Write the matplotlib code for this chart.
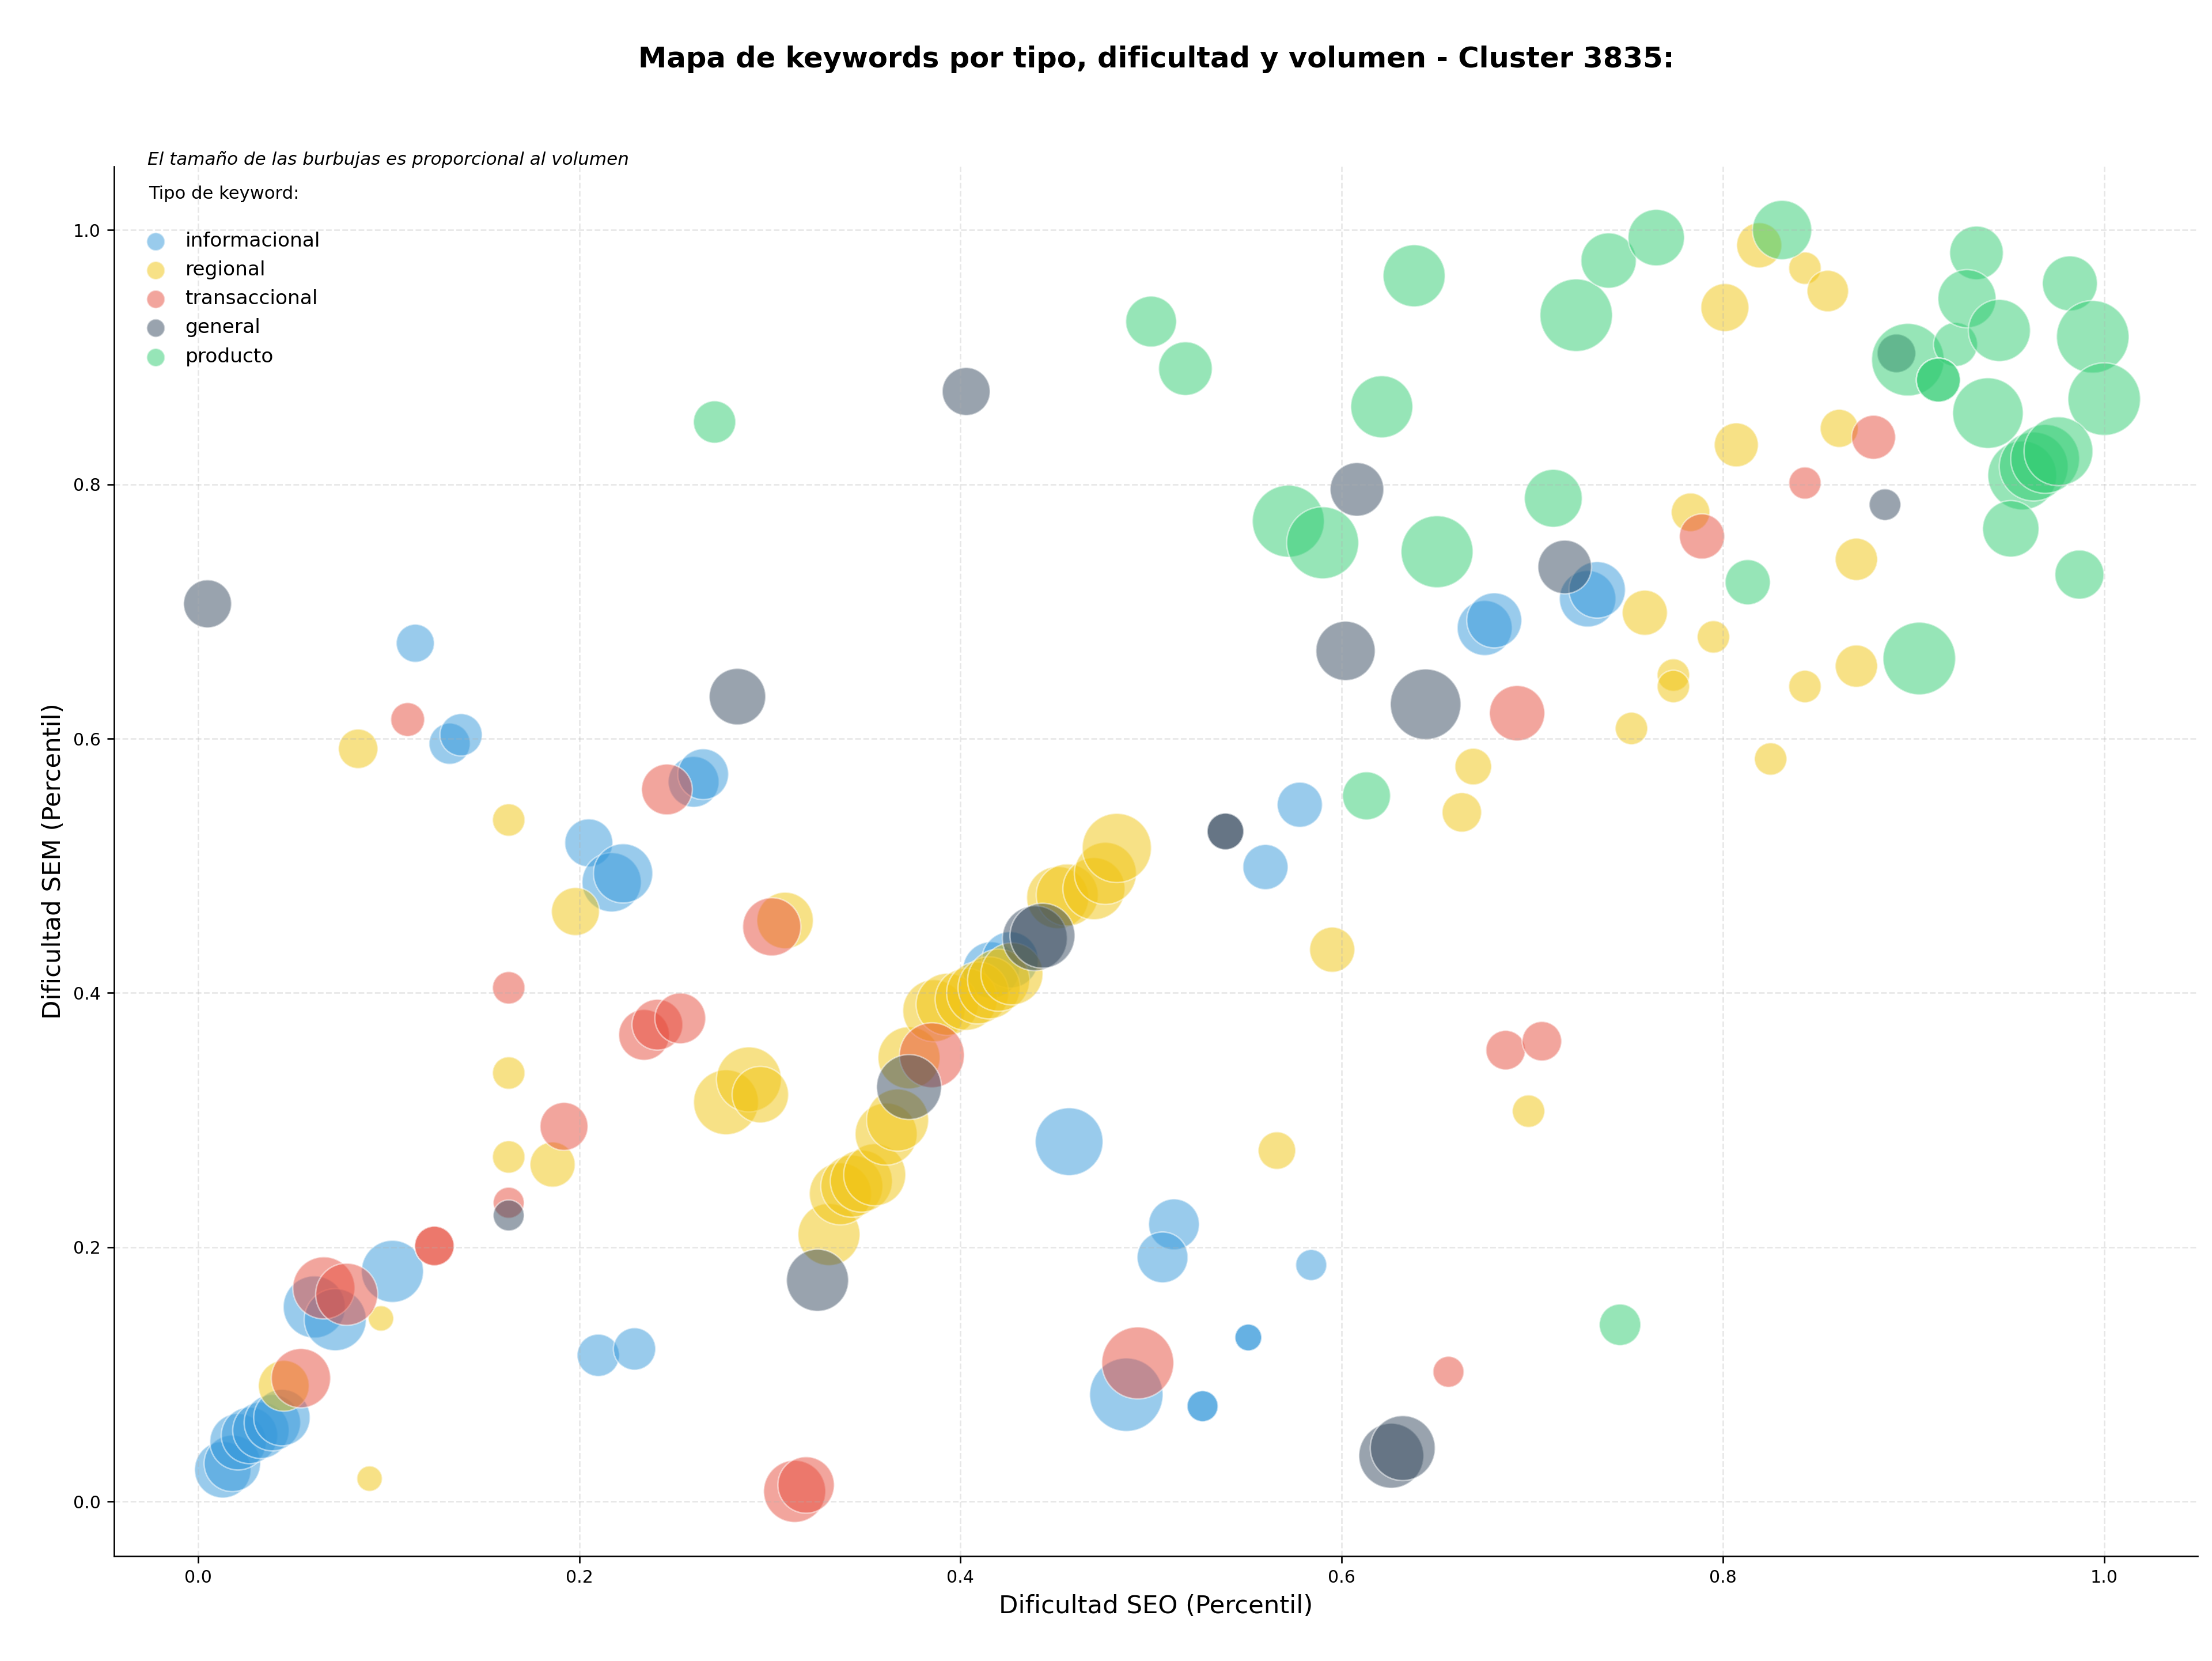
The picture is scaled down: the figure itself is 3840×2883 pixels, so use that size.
import matplotlib
matplotlib.use("Agg")
import matplotlib.pyplot as plt

# tipos de keyword y colores
tipos = ["informacional", "regional", "transaccional", "general", "producto"]
colores = ["#3498db", "#f1c40f", "#e74c3c", "#34495e", "#2ecc71"]

# informacional
x_inf = [0.013, 0.018, 0.021, 0.027, 0.033, 0.039, 0.044, 0.061, 0.072, 0.102,
         0.114, 0.132, 0.138, 0.205, 0.217, 0.223, 0.260, 0.265, 0.210, 0.229,
         0.416, 0.426, 0.457, 0.487, 0.512, 0.506, 0.584, 0.551, 0.551, 0.527,
         0.527, 0.560, 0.578, 0.675, 0.680, 0.729, 0.734]
y_inf = [0.025, 0.030, 0.047, 0.052, 0.056, 0.062, 0.066, 0.153, 0.143, 0.181,
         0.675, 0.596, 0.603, 0.518, 0.487, 0.494, 0.566, 0.572, 0.115, 0.120,
         0.418, 0.426, 0.283, 0.084, 0.218, 0.192, 0.186, 0.129, 0.129, 0.075,
         0.075, 0.499, 0.548, 0.687, 0.693, 0.710, 0.717]
v_inf = [864, 864, 864, 864, 864, 864, 864, 1045, 1045, 1045,
         394, 460, 486, 624, 953, 953, 700, 700, 486, 486,
         864, 864, 1244, 1460, 700, 700, 261, 195, 195, 261,
         261, 553, 553, 821, 821, 864, 864]

# regional
x_reg = [0.084, 0.163, 0.198, 0.163, 0.163, 0.186, 0.096, 0.090, 0.045, 0.308,
         0.277, 0.289, 0.295, 0.331, 0.337, 0.343, 0.348, 0.355, 0.361, 0.367,
         0.373, 0.386, 0.393, 0.403, 0.409, 0.415, 0.420, 0.427, 0.451, 0.456,
         0.470, 0.476, 0.482, 0.566, 0.595, 0.663, 0.669, 0.698, 0.752, 0.759,
         0.774, 0.774, 0.795, 0.783, 0.807, 0.801, 0.819, 0.843, 0.855, 0.861,
         0.870, 0.870, 0.843, 0.825]
y_reg = [0.592, 0.536, 0.464, 0.337, 0.271, 0.265, 0.144, 0.018, 0.091, 0.457,
         0.314, 0.332, 0.320, 0.210, 0.242, 0.248, 0.252, 0.257, 0.289, 0.300,
         0.349, 0.386, 0.391, 0.395, 0.400, 0.404, 0.410, 0.415, 0.475, 0.477,
         0.482, 0.494, 0.514, 0.276, 0.434, 0.542, 0.578, 0.307, 0.608, 0.699,
         0.650, 0.641, 0.680, 0.778, 0.831, 0.939, 0.988, 0.970, 0.952, 0.844,
         0.741, 0.657, 0.641, 0.584]
v_reg = [423, 286, 624, 286, 286, 553, 175, 175, 700, 864,
         1143, 1143, 864, 1045, 1045, 1045, 1045, 1045, 1045, 1045,
         1045, 1045, 1045, 1045, 1045, 1045, 1045, 1045, 1045, 1045,
         1045, 1045, 1297, 382, 553, 423, 365, 286, 286, 553,
         286, 286, 286, 405, 526, 624, 553, 286, 467, 394,
         486, 486, 286, 286]

# transaccional
x_tra = [0.054, 0.066, 0.078, 0.124, 0.124, 0.110, 0.163, 0.163, 0.192, 0.234,
         0.241, 0.253, 0.246, 0.301, 0.385, 0.313, 0.319, 0.493, 0.656, 0.686,
         0.705, 0.692, 0.789, 0.843, 0.879]
y_tra = [0.097, 0.168, 0.163, 0.201, 0.201, 0.615, 0.404, 0.235, 0.295, 0.367,
         0.375, 0.380, 0.560, 0.452, 0.351, 0.008, 0.013, 0.109, 0.102, 0.355,
         0.362, 0.620, 0.759, 0.801, 0.837]
v_tra = [953, 1045, 1045, 423, 423, 311, 286, 261, 624, 700,
         700, 700, 700, 917, 1143, 1045, 864, 1405, 261, 423,
         423, 830, 553, 281, 526]

# general
x_gen = [0.005, 0.163, 0.325, 0.373, 0.439, 0.443, 0.283, 0.403, 0.539, 0.539,
         0.602, 0.608, 0.644, 0.717, 0.885, 0.891, 0.626, 0.632]
y_gen = [0.706, 0.225, 0.174, 0.326, 0.443, 0.445, 0.633, 0.873, 0.527, 0.527,
         0.669, 0.796, 0.627, 0.735, 0.784, 0.903, 0.036, 0.042]
v_gen = [624, 261, 1045, 1143, 1143, 1143, 864, 624, 365, 365,
         953, 780, 1350, 780, 271, 405, 1143, 1143]

# producto
x_pro = [0.271, 0.500, 0.518, 0.572, 0.590, 0.621, 0.638, 0.650, 0.613, 0.711,
         0.723, 0.740, 0.765, 0.813, 0.831, 0.746, 0.897, 0.922, 0.913, 0.913,
         0.933, 0.928, 0.945, 0.982, 0.994, 1.000, 0.939, 0.957, 0.963, 0.969,
         0.976, 0.951, 0.987, 0.903]
y_pro = [0.849, 0.928, 0.891, 0.771, 0.754, 0.861, 0.964, 0.747, 0.555, 0.789,
         0.933, 0.976, 0.994, 0.723, 1.000, 0.139, 0.898, 0.910, 0.882, 0.882,
         0.982, 0.946, 0.921, 0.958, 0.916, 0.867, 0.856, 0.807, 0.814, 0.820,
         0.826, 0.765, 0.729, 0.663]
v_pro = [486, 700, 780, 1405, 1405, 1045, 1045, 1405, 624, 908,
         1427, 830, 864, 553, 953, 467, 1427, 526, 526, 526,
         780, 917, 1045, 821, 1427, 1427, 1350, 1286, 1286, 1286,
         1286, 864, 654, 1427]

series = [(x_inf, y_inf, v_inf), (x_reg, y_reg, v_reg), (x_tra, y_tra, v_tra),
          (x_gen, y_gen, v_gen), (x_pro, y_pro, v_pro)]

fig = plt.figure(figsize=(16, 12.0125), dpi=240)
ax = fig.add_axes([0.0516, 0.0631, 0.9419, 0.8367])

for (xs, ys, vs), tipo, col in zip(series, tipos, colores):
    ax.scatter(xs, ys, s=vs, c=col, alpha=0.5, edgecolors="white",
               linewidths=0.8, label=tipo)

ax.set_xlim(-0.044, 1.049)
ax.set_ylim(-0.043, 1.05)
ax.grid(True, linestyle="--", alpha=0.3)
ax.spines["top"].set_visible(False)
ax.spines["right"].set_visible(False)
ax.tick_params(labelsize=9)

ax.set_xlabel("Dificultad SEO (Percentil)", fontsize=13)
ax.set_ylabel("Dificultad SEM (Percentil)", fontsize=13)
# titulo centrado sobre el eje
fig.text(0.5226, 0.9643, "Mapa de keywords por tipo, dificultad y volumen - Cluster 3835:",
         fontsize=14.9, fontweight="bold", ha="center", va="center")

ax.text(0.016, 1.005, "El tamaño de las burbujas es proporcional al volumen",
        transform=ax.transAxes, fontsize=9.3, style="italic", va="center")
leg = ax.legend(loc="upper left", bbox_to_anchor=(0.008, 0.999), frameon=False,
                fontsize=10.3, title="Tipo de keyword:\n", title_fontsize=9.2,
                handlelength=0.7, handletextpad=1.15)
leg._legend_box.align = "left"
for h in leg.legend_handles:
    h.set_sizes([90])

fig.savefig("out.png", dpi=240)
